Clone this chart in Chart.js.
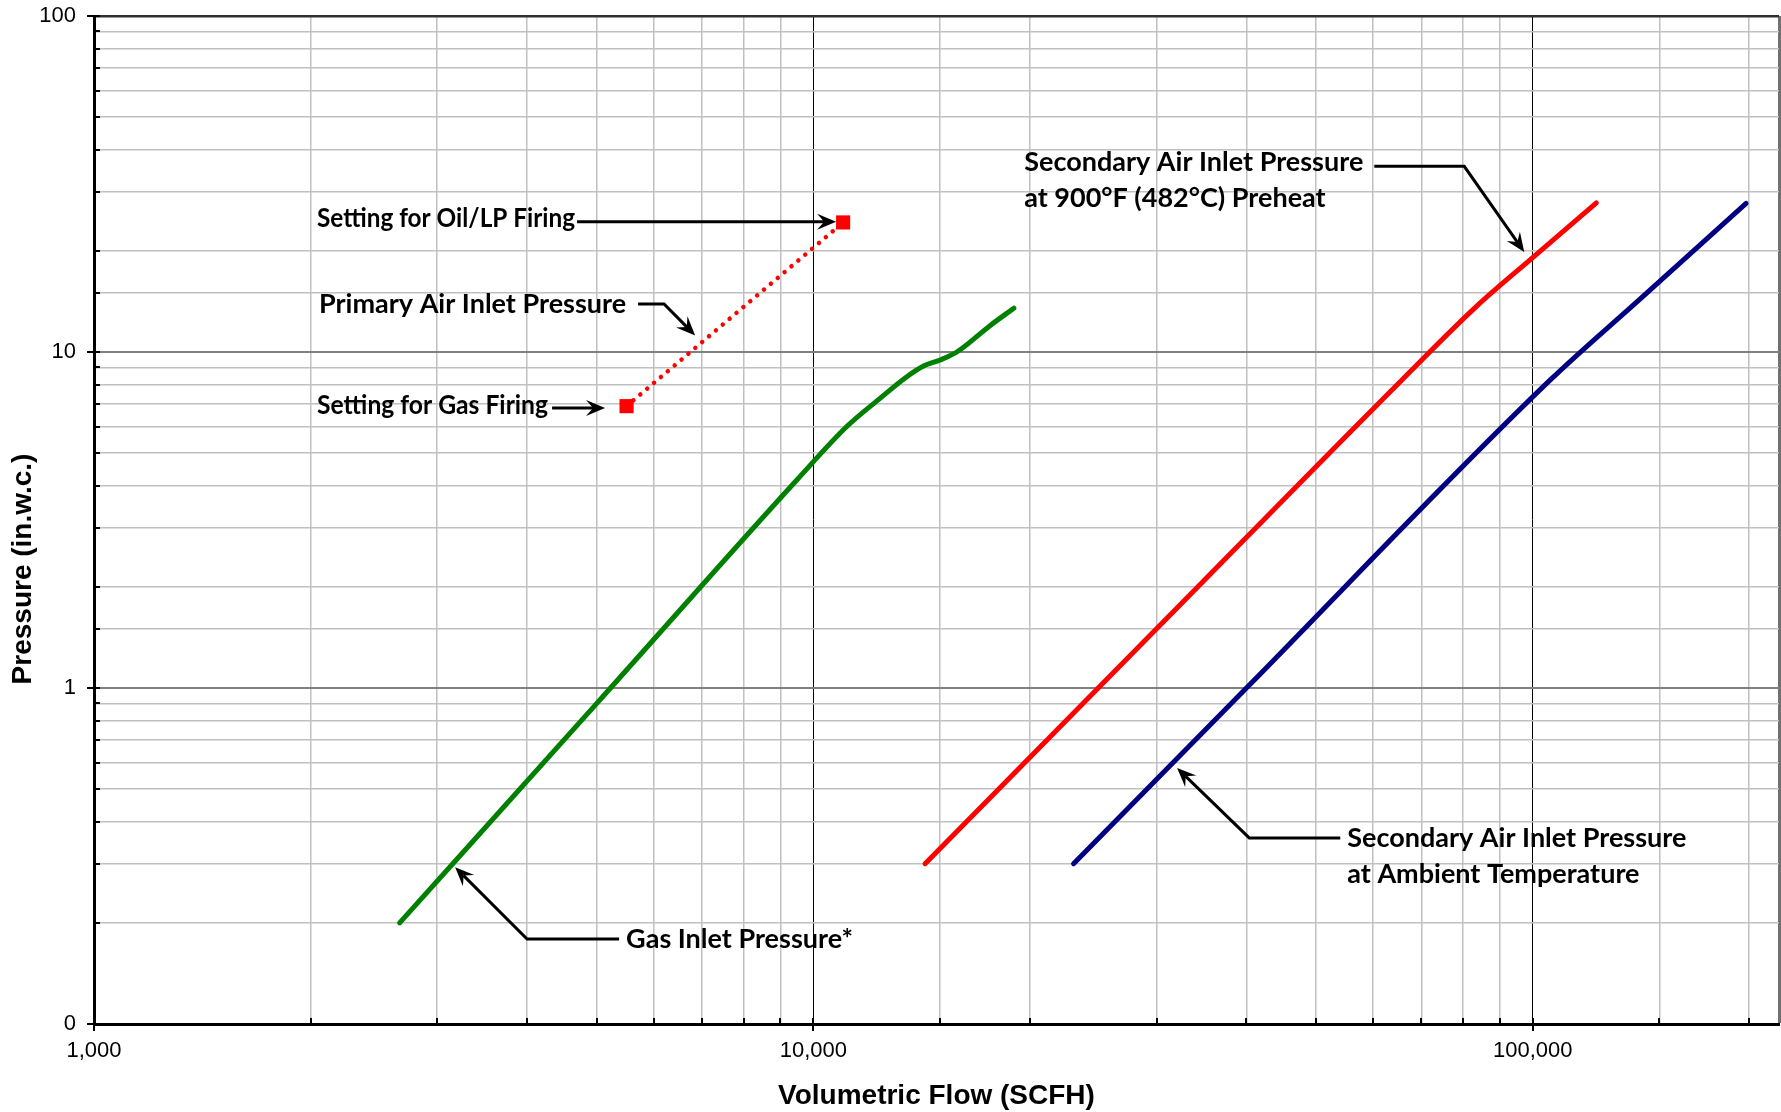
<!DOCTYPE html>
<html>
<head>
<meta charset="utf-8">
<title>Burner pressure vs volumetric flow</title>
<script src="https://cdn.jsdelivr.net/npm/chart.js@4.4.1/dist/chart.umd.min.js"></script>
<style>
  html, body { margin: 0; padding: 0; background: #fff; }
  #wrap { position: relative; width: 1781px; height: 1112px; }
</style>
</head>
<body>
<div id="wrap"><canvas id="chart"></canvas></div>
<script>
// ---- values (flow in SCFH, pressure in in.w.c.) ----
const gasFlow         = [2660, 5000, 9485, 11130, 12380, 13490, 14230, 15010, 15830, 17620, 19000];
const gasPressure     = [0.2, 0.9, 4.16, 6.0, 7.28, 8.44, 9.08, 9.47, 10.0, 12.0, 13.5];
const preheatFlow     = [14300, 30000, 65800, 83600, 100000, 122600];
const preheatPressure = [0.3, 1.5, 8.26, 13.7, 19.1, 27.8];
const ambientFlow     = [23000, 40000, 105800, 141100, 198000];
const ambientPressure = [0.3, 1.0, 8.26, 14.4, 27.7];
const primaryFlow     = [5500, 11000];
const primaryPressure = [6.9, 24.3];

const xRange = [1000, 220000];
const yRange = [0.1, 100];

// callout labels: text anchor (left/middle), widest line in px, leader path in data units
const callouts = [
  { lines: ['Setting for Oil/LP Firing'],  at: [2042, 25.0],  w: 258, path: [[4694, 24.4], [10757, 24.4]] },
  { lines: ['Primary Air Inlet Pressure'], at: [2055, 13.9],  w: 311, path: [[5706, 13.9], [6201, 13.9], [6850, 11.2]] },
  { lines: ['Setting for Gas Firing'],     at: [2042, 6.96],  w: 231, path: [[4333, 6.81], [5134, 6.81]] },
  { lines: ['Secondary Air Inlet Pressure', 'at 900°F (482°C) Preheat'], at: [19640, 36.8], w: 343,
    path: [[60230, 35.7], [80330, 35.7], [97340, 19.85]] },
  { lines: ['Secondary Air Inlet Pressure', 'at Ambient Temperature'],   at: [55240, 0.358], w: 342,
    path: [[54010, 0.358], [40360, 0.358], [32040, 0.578]] },
  { lines: ['Gas Inlet Pressure*'],        at: [5492, 0.179], w: 233, path: [[5370, 0.179], [4000, 0.179], [3177, 0.293]] },
];

const pts = (xs, ys) => xs.map((x, i) => ({ x, y: ys[i] }));
const isDecade = v => Math.abs(Math.log10(v) - Math.round(Math.log10(v))) < 1e-9;

function arrowHead(ctx, from, to) {
  const ang = Math.atan2(to.y - from.y, to.x - from.x);
  const len = 19, half = 8, notch = 12;
  ctx.save();
  ctx.translate(to.x, to.y);
  ctx.rotate(ang);
  ctx.beginPath();
  ctx.moveTo(0, 0);
  ctx.lineTo(-len, -half);
  ctx.lineTo(-notch, 0);
  ctx.lineTo(-len, half);
  ctx.closePath();
  ctx.fill();
  ctx.restore();
}

const calloutPlugin = {
  id: 'callouts',
  afterDatasetsDraw(chart) {
    const { ctx, scales: { x, y } } = chart;
    ctx.save();
    ctx.fillStyle = '#000';
    ctx.strokeStyle = '#000';
    ctx.lineWidth = 3;
    ctx.font = 'bold 27px Lato, "Open Sans", sans-serif';
    ctx.textAlign = 'left';
    ctx.textBaseline = 'middle';
    callouts.forEach(c => {
      const p = c.path.map(([fx, py]) => ({ x: x.getPixelForValue(fx), y: y.getPixelForValue(py) }));
      ctx.beginPath();
      ctx.moveTo(p[0].x, p[0].y);
      for (let i = 1; i < p.length; i++) {
        if (i === p.length - 1) {
          // stop the shaft short of the tip so the head stays sharp
          const a = Math.atan2(p[i].y - p[i - 1].y, p[i].x - p[i - 1].x);
          ctx.lineTo(p[i].x - Math.cos(a) * 12, p[i].y - Math.sin(a) * 12);
        } else {
          ctx.lineTo(p[i].x, p[i].y);
        }
      }
      ctx.stroke();
      arrowHead(ctx, p[p.length - 2], p[p.length - 1]);
      const tx = x.getPixelForValue(c.at[0]);
      const ty = y.getPixelForValue(c.at[1]);
      c.lines.forEach((t, i) => ctx.fillText(t, tx, ty + i * 36, c.w));
    });
    ctx.restore();
  }
};

const axisPlugin = {
  id: 'axisTicks',
  afterDraw(chart) {
    const { ctx, chartArea: a, scales: { x, y } } = chart;
    ctx.save();
    ctx.strokeStyle = '#000';
    ctx.lineWidth = 2;
    ctx.beginPath();
    y.ticks.forEach(t => {
      const py = Math.round(y.getPixelForValue(t.value));
      ctx.moveTo(a.left - (isDecade(t.value) ? 7 : 0), py);
      ctx.lineTo(a.left + 6, py);
    });
    x.ticks.forEach(t => {
      if (t.value >= xRange[1]) return;
      const px = Math.round(x.getPixelForValue(t.value));
      ctx.moveTo(px, a.bottom + (isDecade(t.value) ? 7 : 0));
      ctx.lineTo(px, a.bottom - 6);
    });
    ctx.stroke();

    // vertical axis title sits a little below the plot centre in the original
    ctx.fillStyle = '#000';
    ctx.font = 'bold 28px "Liberation Sans", Arial, sans-serif';
    ctx.textAlign = 'center';
    ctx.textBaseline = 'middle';
    ctx.translate(23, (a.top + a.bottom) / 2 + 49);
    ctx.rotate(-Math.PI / 2);
    ctx.fillText('Pressure (in.w.c.)', 0, 0);
    ctx.restore();
  }
};

new Chart(document.getElementById('chart'), {
  type: 'line',
  data: {
    datasets: [
      {
        label: 'Gas Inlet Pressure',
        data: pts(gasFlow, gasPressure),
        borderColor: '#008000', borderWidth: 5, borderCapStyle: 'round',
        pointRadius: 0, cubicInterpolationMode: 'monotone'
      },
      {
        label: 'Secondary Air Inlet Pressure at 900°F Preheat',
        data: pts(preheatFlow, preheatPressure),
        borderColor: '#ff0000', borderWidth: 5, borderCapStyle: 'round',
        pointRadius: 0, cubicInterpolationMode: 'monotone'
      },
      {
        label: 'Secondary Air Inlet Pressure at Ambient Temperature',
        data: pts(ambientFlow, ambientPressure),
        borderColor: '#000080', borderWidth: 5, borderCapStyle: 'round',
        pointRadius: 0, cubicInterpolationMode: 'monotone'
      },
      {
        label: 'Primary Air Inlet Pressure',
        data: pts(primaryFlow, primaryPressure),
        borderColor: '#ff0000', borderWidth: 4.5, borderCapStyle: 'round',
        borderDash: [0.01, 9],
        pointStyle: 'rect', pointRadius: 10, pointBorderWidth: 0,
        pointBackgroundColor: '#ff0000'
      }
    ]
  },
  options: {
    responsive: true,
    maintainAspectRatio: false,
    animation: false,
    layout: { autoPadding: false, padding: { top: 16, right: 2, left: 0, bottom: 0 } },
    plugins: { legend: { display: false }, tooltip: { enabled: false } },
    scales: {
      x: {
        type: 'logarithmic',
        min: xRange[0], max: xRange[1],
        afterFit: s => { s.height = 88; s.paddingLeft = 0; s.paddingRight = 0; },
        border: { color: '#000', width: 3 },
        grid: {
          drawTicks: false,
          color: c => isDecade(c.tick.value) ? '#000' : (c.tick.value >= xRange[1] ? '#707070' : '#c0c0c0'),
          lineWidth: c => isDecade(c.tick.value) ? 1 : (c.tick.value >= xRange[1] ? 3 : 1.5)
        },
        ticks: {
          autoSkip: false, maxRotation: 0, minRotation: 0, padding: 14,
          color: '#000',
          font: { family: '"Liberation Sans", Arial, sans-serif', size: 22 },
          callback: v => isDecade(v) ? Number(v).toLocaleString('en-US') : ''
        },
        title: {
          display: true,
          text: 'Volumetric Flow (SCFH)',
          color: '#000',
          padding: { top: 0, bottom: 0 },
          font: { family: '"Liberation Sans", Arial, sans-serif', size: 28, weight: 'bold', lineHeight: 1.1 }
        }
      },
      y: {
        type: 'logarithmic',
        min: yRange[0], max: yRange[1],
        afterFit: s => { s.width = 94; s.paddingTop = 0; s.paddingBottom = 0; },
        border: { color: '#000', width: 3 },
        grid: {
          drawTicks: false,
          color: c => c.tick.value >= yRange[1] ? '#303030' : (isDecade(c.tick.value) ? '#808080' : '#c0c0c0'),
          lineWidth: c => c.tick.value >= yRange[1] ? 2.5 : (isDecade(c.tick.value) ? 2 : 1.5)
        },
        ticks: {
          autoSkip: false, padding: 18,
          color: '#000',
          font: { family: '"Liberation Sans", Arial, sans-serif', size: 22 },
          callback: v => isDecade(v) ? Number(v).toFixed(0) : ''
        }
      }
    }
  },
  plugins: [calloutPlugin, axisPlugin]
});
</script>
</body>
</html>
